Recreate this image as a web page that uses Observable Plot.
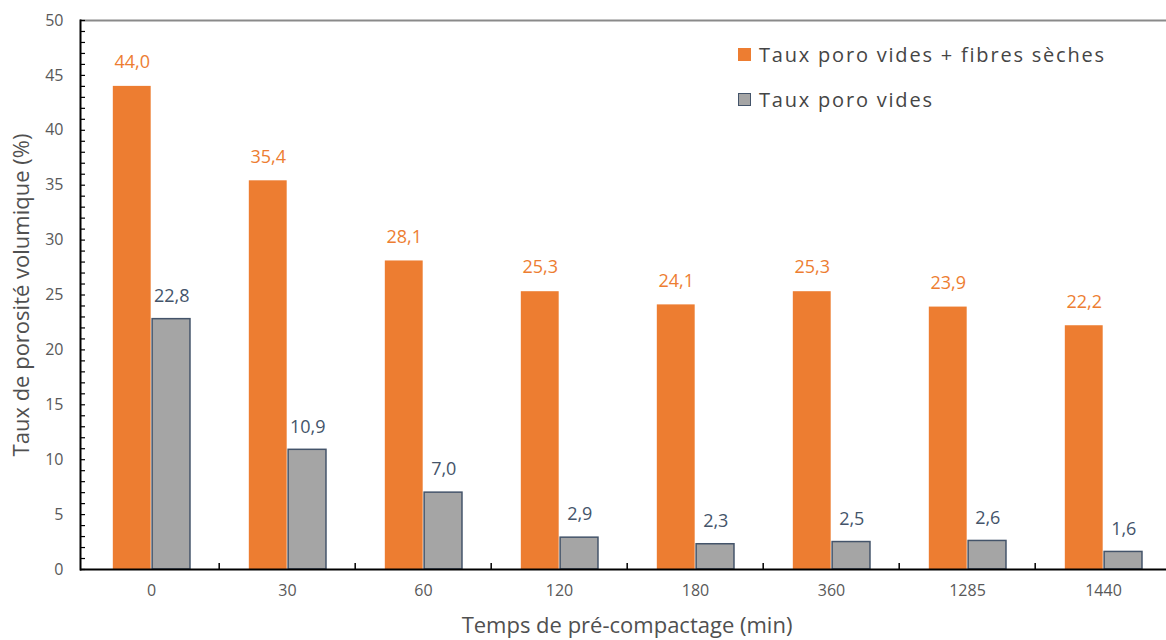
<!DOCTYPE html>
<html>
<head>
<meta charset="utf-8">
<script src="https://cdn.jsdelivr.net/npm/d3@7"></script>
<script src="https://cdn.jsdelivr.net/npm/@observablehq/plot@0.6"></script>
<style>
  html, body { margin: 0; padding: 0; background: #fff; overflow: hidden; }
  #wrap { position: relative; width: 1166px; height: 640px; overflow: hidden; }
  #chart svg { max-width: none !important; display: block; }
  #legend { position: absolute; left: 738px; top: 39px; font-family: "Open Sans", sans-serif; font-size: 20px; color: #454545; letter-spacing: 1.8px; }
  .item { display: flex; align-items: center; height: 30px; margin-bottom: 15px; }
  .sw { width: 13px; height: 13px; margin-right: 8px; box-sizing: border-box; }
</style>
</head>
<body>
<div id="wrap">
  <div id="chart"></div>
  <div id="legend"></div>
</div>
<script>
const categories = ["0", "30", "60", "120", "180", "360", "1285", "1440"];
const seriesNames = ["Taux poro vides + fibres sèches", "Taux poro vides"];
const poroVidesFibres = [44.0, 35.4, 28.1, 25.3, 24.1, 25.3, 23.9, 22.2];
const poroVides = [22.8, 10.9, 7.0, 2.9, 2.3, 2.5, 2.6, 1.6];
const yTicks = [0, 5, 10, 15, 20, 25, 30, 35, 40, 45, 50];
const xTitle = "Temps de pré-compactage (min)";
const yTitle = "Taux de porosité volumique (%)";

const orange = "#ED7D31";
const grey = "#A5A5A5";
const slate = "#44546A";
const textGrey = "#595959";

const fmt = v => v.toFixed(1).replace(".", ",");
const dataA = categories.map((c, i) => ({cat: c, v: poroVidesFibres[i]}));
const dataB = categories.map((c, i) => ({cat: c, v: poroVides[i]}));

const W = 1173, H = 640, mL = 80, mR = 0, mT = 20, mB = 71;
const bw = (W - mL - mR) / categories.length; // band width in px
const half = bw / 2;
const barW = 38.5;
const frameW = W - mL - mR;

const chart = Plot.plot({
  width: W,
  height: H,
  marginLeft: mL,
  marginRight: mR,
  marginTop: mT,
  marginBottom: mB,
  style: {fontFamily: "'Open Sans', sans-serif", background: "#fff", maxWidth: "none"},
  x: {domain: categories, padding: 0, axis: null},
  y: {domain: [0, 50], axis: null},
  marks: [
    // top border (gray)
    Plot.ruleY([50], {stroke: "#8a8a8a", strokeWidth: 2}),
    // bars
    Plot.barY(dataA, {x: "cat", y: "v", fill: orange, insetLeft: half - barW, insetRight: half}),
    Plot.barY(dataB, {x: "cat", y: "v", fill: grey, stroke: slate, strokeWidth: 1.5, insetLeft: half + 0.8, insetRight: half - barW - 0.8}),
    // value labels
    Plot.text(dataA, {x: "cat", y: "v", text: d => fmt(d.v), dx: -barW / 2, dy: -24, fill: orange, fontSize: 18, letterSpacing: 1}),
    Plot.text(dataB, {x: "cat", y: "v", text: d => fmt(d.v), dx: barW / 2 + 1, dy: -23, fill: slate, fontSize: 18, letterSpacing: 1}),
    // minor ticks on y axis (inward)
    Plot.ruleY(d3.range(0, 51, 1), {stroke: "#000", strokeWidth: 1.2, insetRight: frameW - 5}),
    // y tick labels
    Plot.axisY({ticks: yTicks, tickSize: 0, tickPadding: 17, fontSize: 16, color: textGrey, label: null}),
    // x tick labels
    Plot.axisX({tickSize: 0, tickPadding: 15, fontSize: 16, color: textGrey, label: null, letterSpacing: 0.8}),
    // x category separator ticks (inward)
    Plot.ruleX(categories.slice(1), {x: d => d, dx: -half, y1: 0, y2: 0.55, stroke: "#000", strokeWidth: 1.5}),
    // axis lines
    Plot.ruleY([0], {stroke: "#000", strokeWidth: 2}),
    Plot.frame({anchor: "left", stroke: "#000", strokeWidth: 2}),
    // axis titles
    Plot.text([xTitle], {frameAnchor: "bottom", textAnchor: "middle", lineAnchor: "middle", dy: 56, fontSize: 22, fill: "#505050", letterSpacing: 1.4}),
    Plot.text([yTitle], {frameAnchor: "left", textAnchor: "middle", lineAnchor: "middle", dx: -59, rotate: -90, fontSize: 22, fill: "#505050", letterSpacing: 0.6})
  ]
});
chart.style.maxWidth = "none";
document.getElementById("chart").appendChild(chart);

const legend = document.getElementById("legend");
const swatches = [{fill: orange, stroke: orange}, {fill: grey, stroke: slate}];
seriesNames.forEach((name, i) => {
  const item = document.createElement("div");
  item.className = "item";
  const sw = document.createElement("span");
  sw.className = "sw";
  sw.style.background = swatches[i].fill;
  sw.style.border = `1.5px solid ${swatches[i].stroke}`;
  const t = document.createElement("span");
  t.textContent = name;
  item.appendChild(sw);
  item.appendChild(t);
  legend.appendChild(item);
});
</script>
</body>
</html>
